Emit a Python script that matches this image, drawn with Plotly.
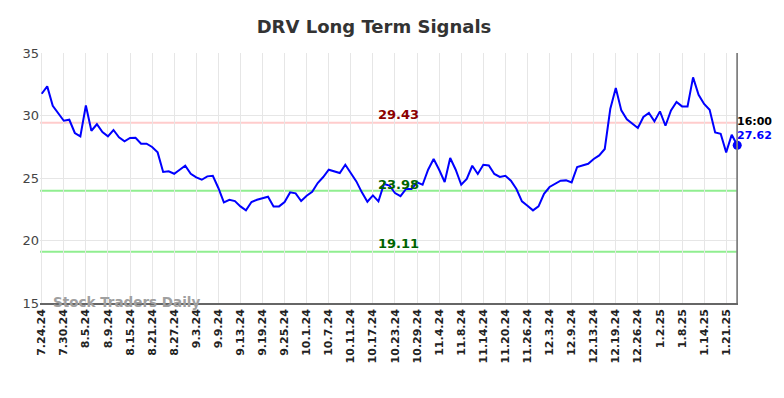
import pandas as pd
import plotly.graph_objects as go

# ---- data ----
start_date = "2024-07-24"
end_date = "2025-01-23"
holidays = ["2024-09-02", "2024-11-28", "2024-12-25", "2025-01-01", "2025-01-20"]

values = [
    31.74, 32.33, 30.78, 30.20, 29.58, 29.66, 28.60, 28.33, 30.80, 28.78,
    29.30, 28.68, 28.33, 28.84, 28.25, 27.93, 28.20, 28.22, 27.74, 27.74,
    27.48, 27.05, 25.48, 25.53, 25.34, 25.66, 25.98, 25.34, 25.05, 24.86,
    25.13, 25.18, 24.20, 23.05, 23.26, 23.15, 22.73, 22.41, 23.08, 23.26,
    23.37, 23.50, 22.73, 22.73, 23.08, 23.85, 23.77, 23.16, 23.58, 23.90,
    24.60, 25.08, 25.66, 25.53, 25.40, 26.06, 25.40, 24.73, 23.85, 23.10,
    23.61, 23.13, 24.52, 24.40, 23.80, 23.55, 24.12, 24.12, 24.65, 24.46,
    25.66, 26.52, 25.66, 24.68, 26.60, 25.66, 24.46, 24.92, 25.98, 25.32,
    26.06, 26.00, 25.32, 25.08, 25.18, 24.78, 24.12, 23.13, 22.78, 22.41,
    22.73, 23.74, 24.28, 24.52, 24.78, 24.81, 24.65, 25.88, 26.04, 26.14,
    26.52, 26.81, 27.32, 30.52, 32.20, 30.41, 29.70, 29.32, 29.00, 29.88,
    30.20, 29.53, 30.33, 29.18, 30.41, 31.08, 30.73, 30.73, 33.05, 31.66,
    30.92, 30.46, 28.65, 28.54, 27.05, 28.46, 27.62,
]

resistance = 29.43
supports = [23.98, 19.11]
last_time_label = "16:00"
title_text = "DRV Long Term Signals"
watermark = "Stock Traders Daily"

days = [d for d in pd.bdate_range(start_date, end_date) if d.strftime("%Y-%m-%d") not in holidays]
labels = [f"{d.month}.{d.day}.{d.strftime('%y')}" for d in days]
idx = list(range(len(values)))
tick_idx = idx[::4]
tick_text = [labels[i] for i in tick_idx]

FONT = "DejaVu Sans"
fig = go.Figure()

fig.add_trace(go.Scatter(x=idx, y=values, mode="lines",
                         line=dict(color="#0000ff", width=2), hoverinfo="skip"))

# signal lines
fig.add_hline(y=resistance, line=dict(color="#ffcccc", width=2), layer="below")
for s in supports:
    fig.add_hline(y=s, line=dict(color="#90ee90", width=2), layer="below")

# vertical marker line at last point
fig.add_shape(type="line", x0=idx[-1], x1=idx[-1], y0=0, y1=1, xref="x", yref="paper",
              line=dict(color="#808080", width=2))

fig.add_trace(go.Scatter(x=[idx[-1]], y=[values[-1]], mode="markers", cliponaxis=False,
                         marker=dict(color="#0000ff", size=9), hoverinfo="skip"))

mid = 64.7
fig.add_annotation(x=mid, y=resistance, text=f"<b>{resistance:.2f}</b>", showarrow=False,
                   yshift=8, font=dict(family=FONT, size=13, color="#8b0000"))
fig.add_annotation(x=mid, y=supports[0], text=f"<b>{supports[0]:.2f}</b>", showarrow=False,
                   yshift=6, font=dict(family=FONT, size=13, color="#006400"))
fig.add_annotation(x=mid, y=supports[1], text=f"<b>{supports[1]:.2f}</b>", showarrow=False,
                   yshift=8, font=dict(family=FONT, size=13, color="#006400"))

fig.add_annotation(x=idx[-1], y=values[-1], text=f"<b>{last_time_label}</b>", showarrow=False,
                   xanchor="left", xshift=-2, yshift=24, font=dict(family=FONT, size=11, color="#000000"))
fig.add_annotation(x=idx[-1], y=values[-1], text=f"<b>{values[-1]:.2f}</b>", showarrow=False,
                   xanchor="left", xshift=-2, yshift=10, font=dict(family=FONT, size=11, color="#0000ff"))

fig.add_annotation(x=(126.5 - 40) / 698, y=0, xref="paper", yref="paper", yshift=1,
                   xanchor="center", yanchor="middle",
                   text=f"<b>{watermark}</b>", showarrow=False,
                   font=dict(family=FONT, size=13.5, color="#a0a0a0"))

fig.update_layout(
    width=784, height=398,
    margin=dict(l=40, r=46, t=53, b=95),
    paper_bgcolor="white", plot_bgcolor="white",
    showlegend=False,
    title=dict(text=f"<b>{title_text}</b>", x=374 / 784, xanchor="center", xref="container",
               y=1 - 27 / 398, yanchor="middle", yref="container",
               font=dict(family=FONT, size=18, color="#333333")),
    font=dict(family=FONT),
)
fig.update_xaxes(range=[-0.31, 126.14], tickmode="array", tickvals=tick_idx,
                 ticktext=[f"<b>{t}</b>" for t in tick_text], tickangle=-90,
                 tickfont=dict(family=FONT, size=11, color="#222222"),
                 showgrid=True, gridcolor="#e6e6e6", gridwidth=1,
                 showline=True, linecolor="#666666", linewidth=1.5,
                 ticks="", zeroline=False)
fig.update_yaxes(range=[15, 35], tickvals=[15, 20, 25, 30, 35],
                 tickfont=dict(family=FONT, size=13, color="#444444"),
                 showgrid=True, gridcolor="#e6e6e6", gridwidth=1,
                 showline=False, ticks="", zeroline=False)

fig.write_html("out.html", config={"displayModeBar": False},
               post_script="document.body.style.margin='0';document.body.style.overflow='hidden';")
